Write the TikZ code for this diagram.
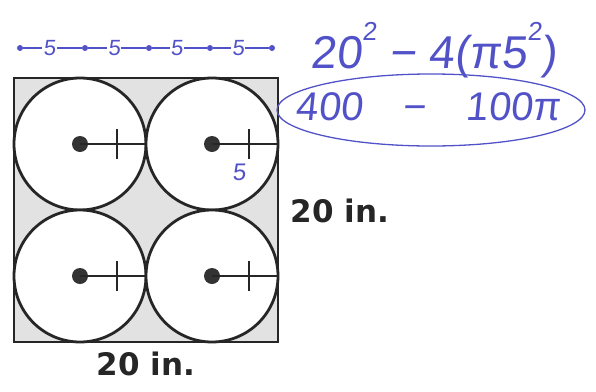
\documentclass[tikz,border=0pt]{standalone}
\usepackage{fontspec}
\newfontfamily\dimfont{DejaVu Sans}
\newfontfamily\handfont{Liberation Sans}[FakeSlant=0.1]
\definecolor{inkblue}{RGB}{82,82,200}
\definecolor{shadegray}{RGB}{226,226,226}
\usetikzlibrary{shapes.geometric, positioning, calc}
\newcommand{\handsq}{\raisebox{0.62em}{\fontsize{26}{26}\selectfont 2}}

\begin{document}
\begin{tikzpicture}[
  x=1pt, y=-1pt,
  figline/.style={line width=2.8pt, draw=black!85},
  wheel/.style={circle, figline, fill=white, minimum size=132pt, inner sep=0pt},
  hub/.style={circle, fill=black!80, inner sep=0pt, minimum size=16pt},
  spoke/.style={line width=2pt, black!85},
  dimlabel/.style={font=\dimfont\bfseries\fontsize{31}{31}\selectfont, color=black!85},
  hand/.style={font=\handfont\fontsize{40}{40}\selectfont, text=inkblue, inner sep=1pt},
  inkline/.style={line width=1.6pt, inkblue},
  inkdot/.style={circle, fill=inkblue, inner sep=0pt, minimum size=6pt},
]
  \useasboundingbox (0,0) rectangle (596,391);

  % shaded square with four circles
  \fill[shadegray] (14,78) rectangle (278,342);
  \foreach \row/\cy in {t/144, b/276} {
    \foreach \col/\cx in {l/80, r/212} {
      \node[wheel] (w\row\col) at (\cx,\cy) {};
      \node[hub] (h\row\col) at (\cx,\cy) {};
      \draw[spoke] (h\row\col.center) -- coordinate[pos=0.55] (t\row\col) (w\row\col.east);
      \draw[spoke] ([yshift=-15pt]t\row\col) -- ([yshift=15pt]t\row\col);
    }
  }
  \draw[figline] (14,78) rectangle (278,342);

  \node[dimlabel] (side) at (340,211) {20 in.};
  \node[dimlabel] (base) at (146,364) {20 in.};

  % handwritten notes
  \node[inkdot] (d0) at (20,48) {};
  \node[inkdot] (d1) at (85,48) {};
  \node[inkdot] (d2) at (149,48) {};
  \node[inkdot] (d3) at (210,48) {};
  \node[inkdot] (d4) at (272,48) {};
  \foreach \a/\b in {d0/d1, d1/d2, d2/d3, d3/d4}
    \draw[inkline] (\a) -- node[pos=0.45, hand, fill=white, font=\handfont\fontsize{22}{22}\selectfont] {5} (\b);

  \node[hand, font=\handfont\fontsize{46}{46}\selectfont] (expr) at (434,50)
    {20\handsq\ − 4(π5\handsq)};
  \node[hand] (result) at (428,107) {400\quad −\quad 100π};
  \node[ellipse, draw=inkblue, line width=1.3pt, minimum width=308pt, minimum height=72pt]
    (ring) at (431,110) {};
  \node[hand, font=\handfont\fontsize{24}{24}\selectfont] (rlabel) at (239,172) {5};
\end{tikzpicture}
\end{document}
